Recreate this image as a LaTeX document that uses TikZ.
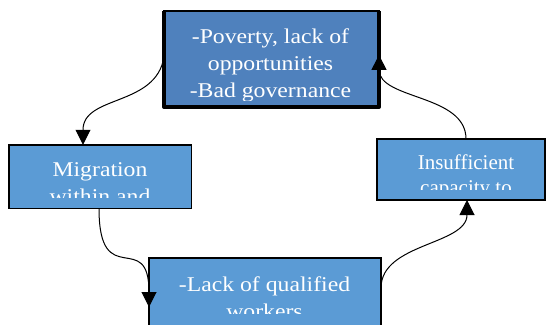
\documentclass[tikz,border=0pt]{standalone}
\usepackage{fontspec}
\setmainfont[FakeStretch=1.13]{Liberation Serif}
\newfontfamily\plainserif{Liberation Serif}
\usetikzlibrary{arrows.meta}
\definecolor{darkblue}{RGB}{79,129,189}
\definecolor{lightblue}{RGB}{91,155,213}

\begin{document}
\begin{tikzpicture}[x=1pt,y=-1pt,
	box/.style={draw=black,line width=2pt,fill=lightblue,inner sep=0pt,outer sep=0pt},
	boxtext/.style={text=white,align=center,anchor=north,inner sep=0pt,font=\fontsize{21}{27}\selectfont},
	link/.style={line width=1pt,-{Triangle[length=15pt,width=15pt]}}]
	\clip (0,0) rectangle (548,324);
	% boxes
	\node[box,fill=darkblue,line width=1.5pt,minimum width=215pt,minimum height=96pt] (poverty) at (271.5,58.9) {};
	\draw[line width=4pt,line join=round] (poverty.north west) -- (poverty.south west) -- (poverty.south east) -- (poverty.north east);
	\node[box,line width=1.5pt,minimum width=182.5pt,minimum height=63.5pt] (migration) at (100,176.5) {};
	\node[box,minimum width=168pt,minimum height=61pt] (capacity) at (461,169.5) {};
	\node[box,minimum width=232pt,minimum height=68pt] (workers) at (265,292) {};
	% texts, cut off at the box margins
	\begin{scope}
		\clip (166,13) rectangle (375,100);
		\node[boxtext] (povertytext) at (270.5,28.7) {-Poverty, lack of\\opportunities\\-Bad governance};
	\end{scope}
	\begin{scope}
		\clip (10,146) rectangle (190,197);
		\node[boxtext] (migrationtext) at (100,162.7) {Migration\\within and};
	\end{scope}
	\begin{scope}
		\clip (378,140) rectangle (544,189);
		\node[boxtext,font=\plainserif\fontsize{21}{25}\selectfont] (capacitytext) at (466,154.7) {Insufficient\\capacity to};
	\end{scope}
	\begin{scope}
		\clip (150,259) rectangle (380,313);
		\node[boxtext] (workerstext) at (264.5,276.7) {-Lack of qualified\\workers};
	\end{scope}
	% connectors
	\draw[link] ([yshift=2pt]poverty.west) .. controls +(-8,50) and +(0,-50) .. ([xshift=-17pt]migration.north);
	\draw[link] ([xshift=-1pt]migration.south) .. controls +(0,85) and +(0,-80) .. ([yshift=-15pt]workers.west);
	\draw[link] ([yshift=4pt]workers.east) .. controls +(0,-45) and +(0,45) .. ([xshift=6pt]capacity.south);
	\draw[link] ([xshift=5pt]capacity.north) .. controls +(0,-45) and +(0,45) .. ([yshift=4pt]poverty.east);
\end{tikzpicture}
\end{document}
